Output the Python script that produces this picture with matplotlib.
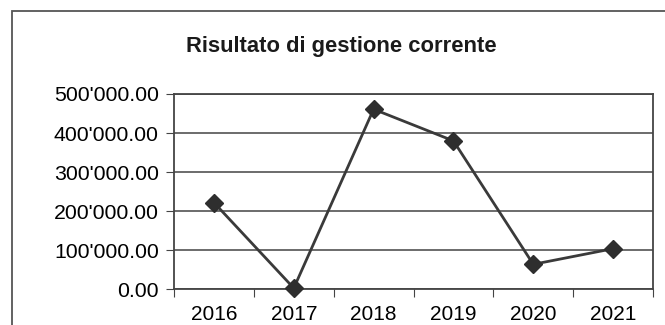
import numpy as np
import matplotlib.pyplot as plt
from matplotlib.patches import Rectangle
from matplotlib.ticker import FuncFormatter

# values
years = ['2016', '2017', '2018', '2019', '2020', '2021']
risultato = [222000, 3000, 461000, 380000, 64000, 104000]
y_ticks = [0, 100000, 200000, 300000, 400000, 500000]

plt.rcParams['font.family'] = ['Liberation Sans', 'DejaVu Sans']

fig = plt.figure(figsize=(6.65, 3.25), dpi=100)
ax = fig.add_axes([0.2617, 0.1098, 0.7203, 0.601])

# outer chart frame (cut off on the right and bottom in the scan)
fig.patches.append(Rectangle((0.018, -0.1), 1.1, 1.066, transform=fig.transFigure,
                             fill=False, edgecolor='#555555', linewidth=1.3))

x = np.arange(len(years))
ax.plot(x, risultato, color='#3a3a3a', linewidth=2, marker='D', clip_on=False,
        markersize=9, markerfacecolor='#2e2e2e', markeredgecolor='#2e2e2e', zorder=3)

ax.set_xlim(-0.5, len(years) - 0.5)
ax.set_ylim(0, 500000)
ax.set_yticks(y_ticks)
ax.yaxis.set_major_formatter(FuncFormatter(lambda v, p: f"{v:,.2f}".replace(',', "'")))
ax.grid(axis='y', color='#444444', linewidth=1.1)

# category labels centred, tick marks between categories
ax.set_xticks(np.arange(-0.5, len(years), 1))
ax.set_xticklabels([])
ax.set_xticks(x, minor=True)
ax.set_xticklabels(years, minor=True)
ax.tick_params(axis='x', which='major', length=6, color='#444444', direction='out')
ax.tick_params(axis='x', which='minor', length=0, labelsize=15, pad=11)
ax.tick_params(axis='y', length=6, color='#444444', labelsize=15.3, pad=5)

for s in ax.spines.values():
    s.set_color('#444444')
    s.set_linewidth(1.3)

fig.text(0.514, 0.857, 'Risultato di gestione corrente', ha='center', va='center',
         fontsize=15.8, fontweight='bold', color='#1a1a1a')

fig.savefig('out.png', dpi=100)
